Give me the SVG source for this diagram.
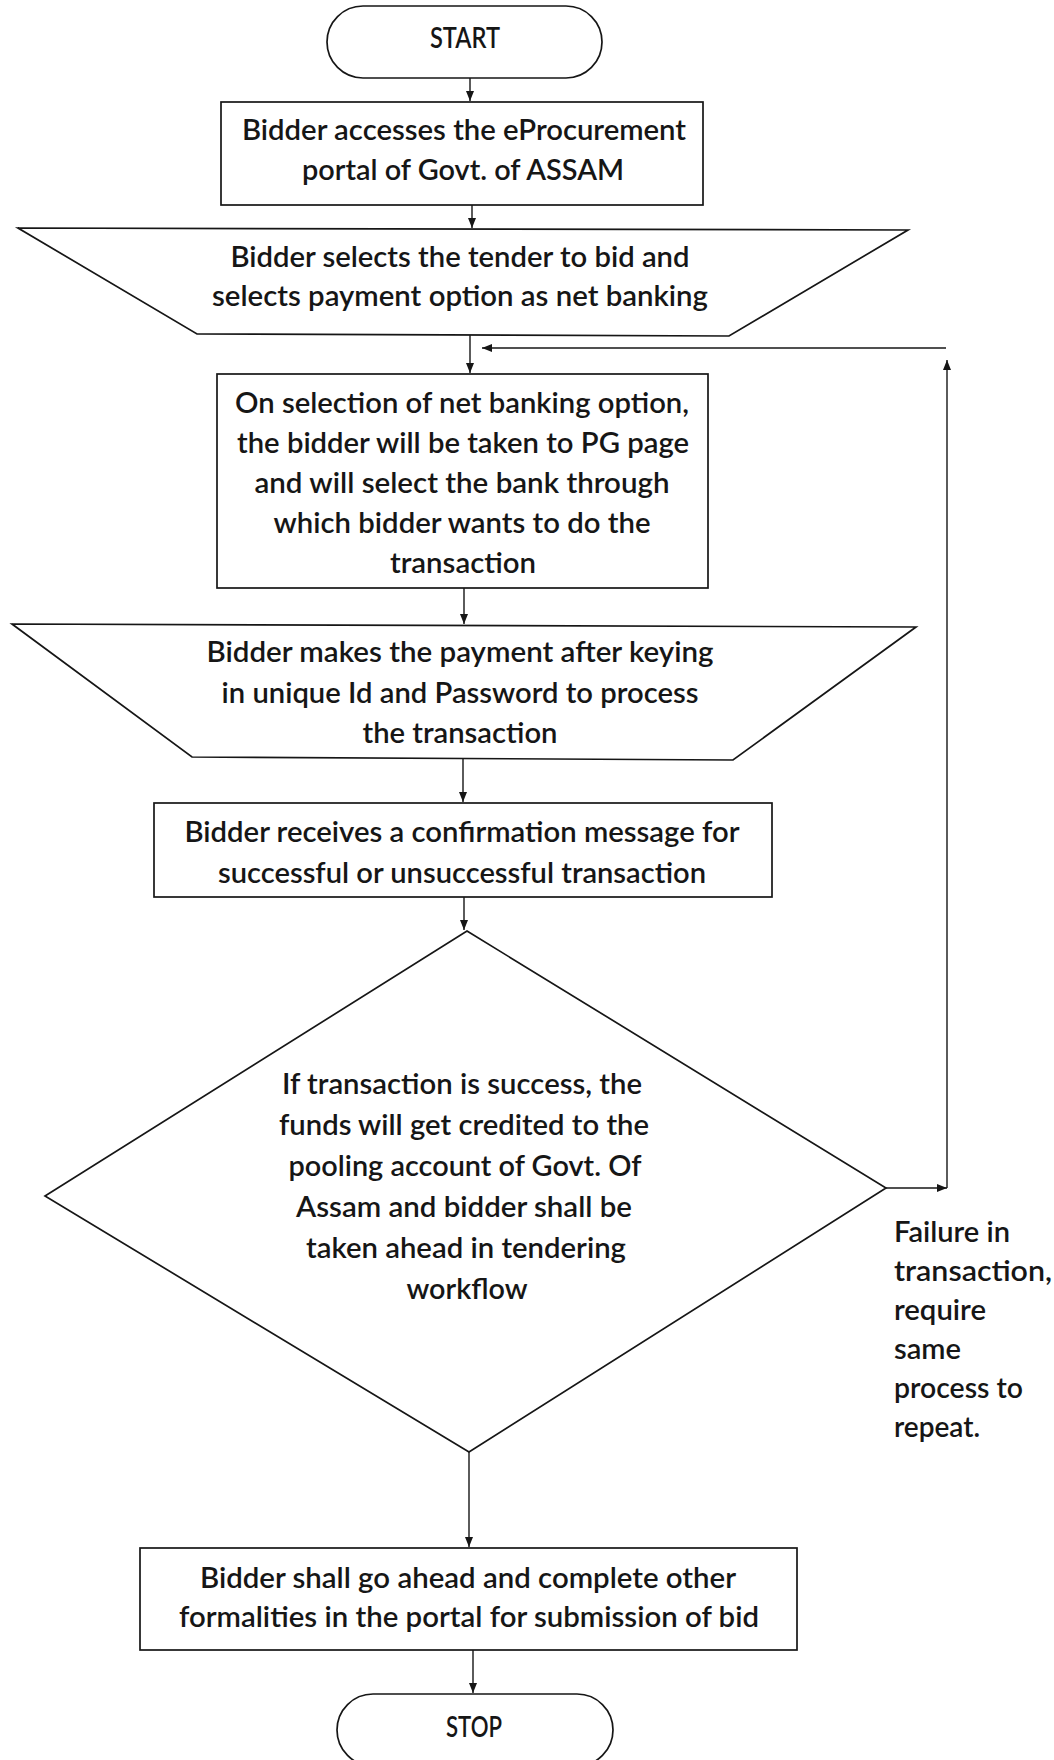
<svg xmlns="http://www.w3.org/2000/svg" width="1054" height="1760" viewBox="0 0 1054 1760">
  <style>
    .shape { fill: #ffffff; stroke: #161616; stroke-width: 1.7; }
    .conn { fill: none; stroke: #161616; stroke-width: 1.4; }
    text { font-family: Lato, "Open Sans", "Liberation Sans", sans-serif; font-size: 28px; font-weight: 600; fill: #161616; text-anchor: middle; }
    .lbl { text-anchor: start; }
  </style>
  <defs>
    <marker id="arr" viewBox="0 0 10 8" refX="10" refY="4" markerWidth="10" markerHeight="8" markerUnits="userSpaceOnUse" orient="auto">
      <path d="M0,0 L10,4 L0,8 z" fill="#161616"/>
    </marker>
  </defs>
  <rect x="0" y="0" width="1054" height="1760" fill="#ffffff"/>

  <g id="connectors">
    <line class="conn" x1="470" y1="78" x2="470" y2="101" marker-end="url(#arr)"/>
    <line class="conn" x1="472" y1="205" x2="472" y2="228" marker-end="url(#arr)"/>
    <line class="conn" x1="470" y1="335" x2="470" y2="373" marker-end="url(#arr)"/>
    <line class="conn" x1="464" y1="588" x2="464" y2="624" marker-end="url(#arr)"/>
    <line class="conn" x1="463" y1="759" x2="463" y2="802" marker-end="url(#arr)"/>
    <line class="conn" x1="464" y1="897" x2="464" y2="930" marker-end="url(#arr)"/>
    <line class="conn" x1="469" y1="1452" x2="469" y2="1547" marker-end="url(#arr)"/>
    <line class="conn" x1="473" y1="1650" x2="473" y2="1693" marker-end="url(#arr)"/>
    <line class="conn" x1="886" y1="1188" x2="947" y2="1188" marker-end="url(#arr)"/>
    <line class="conn" x1="947" y1="1188" x2="947" y2="360" marker-end="url(#arr)"/>
    <line class="conn" x1="946" y1="348" x2="482" y2="348" marker-end="url(#arr)"/>
  </g>

  <g id="start">
    <rect class="shape" x="327" y="6" width="275" height="72" rx="36" ry="36"/>
    <text x="465" y="48" textLength="70" lengthAdjust="spacingAndGlyphs">START</text>
  </g>

  <g id="access-portal">
    <rect class="shape" x="221" y="102" width="482" height="103"/>
    <text x="464" y="140" textLength="444" lengthAdjust="spacingAndGlyphs">Bidder accesses the eProcurement</text>
    <text x="463" y="180" textLength="322" lengthAdjust="spacingAndGlyphs">portal of Govt. of ASSAM</text>
  </g>

  <g id="select-tender">
    <polygon class="shape" points="18,228 908,230 729,336 197,334"/>
    <text x="460" y="267" textLength="459" lengthAdjust="spacingAndGlyphs">Bidder selects the tender to bid and</text>
    <text x="460" y="306" textLength="496" lengthAdjust="spacingAndGlyphs">selects payment option as net banking</text>
  </g>

  <g id="pg-page">
    <rect class="shape" x="217" y="374" width="491" height="214"/>
    <text x="462" y="413" textLength="454" lengthAdjust="spacingAndGlyphs">On selection of net banking option,</text>
    <text x="463" y="453" textLength="452" lengthAdjust="spacingAndGlyphs">the bidder will be taken to PG page</text>
    <text x="462" y="493" textLength="415" lengthAdjust="spacingAndGlyphs">and will select the bank through</text>
    <text x="462" y="533" textLength="377" lengthAdjust="spacingAndGlyphs">which bidder wants to do the</text>
    <text x="463" y="573" textLength="146" lengthAdjust="spacingAndGlyphs">transaction</text>
  </g>

  <g id="make-payment">
    <polygon class="shape" points="12,624 916,627 733,760 192,757"/>
    <text x="460" y="662" textLength="507" lengthAdjust="spacingAndGlyphs">Bidder makes the payment after keying</text>
    <text x="460" y="703" textLength="477" lengthAdjust="spacingAndGlyphs">in unique Id and Password to process</text>
    <text x="460" y="743" textLength="195" lengthAdjust="spacingAndGlyphs">the transaction</text>
  </g>

  <g id="confirmation">
    <rect class="shape" x="154" y="803" width="618" height="94"/>
    <text x="462" y="842" textLength="555" lengthAdjust="spacingAndGlyphs">Bidder receives a confirmation message for</text>
    <text x="462" y="883" textLength="488" lengthAdjust="spacingAndGlyphs">successful or unsuccessful transaction</text>
  </g>

  <g id="decision">
    <polygon class="shape" points="467,931 886,1188 469,1452 45,1196"/>
    <text x="462" y="1094" textLength="360" lengthAdjust="spacingAndGlyphs">If transaction is success, the</text>
    <text x="464" y="1135" textLength="370" lengthAdjust="spacingAndGlyphs">funds will get credited to the</text>
    <text x="465" y="1176" textLength="353" lengthAdjust="spacingAndGlyphs">pooling account of Govt. Of</text>
    <text x="464" y="1217" textLength="336" lengthAdjust="spacingAndGlyphs">Assam and bidder shall be</text>
    <text x="466" y="1258" textLength="320" lengthAdjust="spacingAndGlyphs">taken ahead in tendering</text>
    <text x="467" y="1299" textLength="121" lengthAdjust="spacingAndGlyphs">workflow</text>
  </g>

  <g id="failure-label">
    <text class="lbl" x="894" y="1242" textLength="116" lengthAdjust="spacingAndGlyphs">Failure in</text>
    <text class="lbl" x="894" y="1281" textLength="158" lengthAdjust="spacingAndGlyphs">transaction,</text>
    <text class="lbl" x="894" y="1320" textLength="92" lengthAdjust="spacingAndGlyphs">require</text>
    <text class="lbl" x="894" y="1359" textLength="67" lengthAdjust="spacingAndGlyphs">same</text>
    <text class="lbl" x="894" y="1398" textLength="129" lengthAdjust="spacingAndGlyphs">process to</text>
    <text class="lbl" x="894" y="1437" textLength="86" lengthAdjust="spacingAndGlyphs">repeat.</text>
  </g>

  <g id="complete-formalities">
    <rect class="shape" x="140" y="1548" width="657" height="102"/>
    <text x="468" y="1588" textLength="536" lengthAdjust="spacingAndGlyphs">Bidder shall go ahead and complete other</text>
    <text x="469" y="1627" textLength="580" lengthAdjust="spacingAndGlyphs">formalities in the portal for submission of bid</text>
  </g>

  <g id="stop">
    <rect class="shape" x="337" y="1694" width="276" height="72" rx="36" ry="36"/>
    <text x="474" y="1737" textLength="56" lengthAdjust="spacingAndGlyphs">STOP</text>
  </g>
</svg>
